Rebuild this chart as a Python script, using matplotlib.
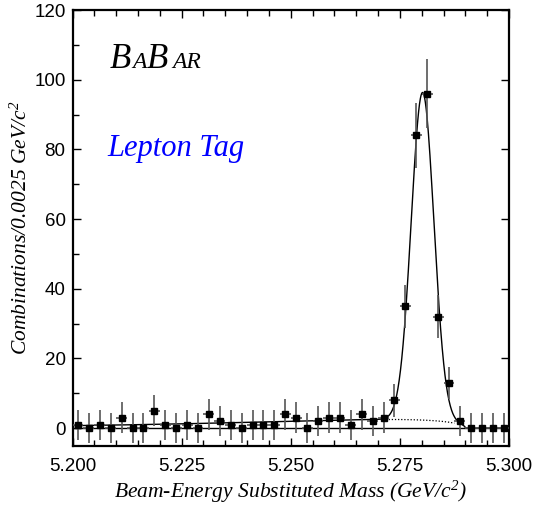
import numpy as np
import matplotlib
matplotlib.use("Agg")
import matplotlib.pyplot as plt
from matplotlib.ticker import MultipleLocator, FormatStrFormatter

plt.rcParams["mathtext.fontset"] = "custom"
plt.rcParams["mathtext.rm"] = "Liberation Serif:italic"
plt.rcParams["mathtext.it"] = "Liberation Serif:italic"

# mES bins (0.0025 GeV/c^2 wide) and counts
bin_lo = 5.200
bin_w = 0.0025
counts = [1, 0, 1, 0, 3, 0, 0, 5, 1, 0,
          1, 0, 4, 2, 1, 0, 1, 1, 1, 4,
          3, 0, 2, 3, 3, 1, 4, 2, 3, 8,
          35, 84, 96, 32, 13, 2, 0, 0, 0, 0]
errors = [4.3, 4.3, 4.3, 4.3, 4.4, 4.3, 4.3, 4.5, 4.3, 4.3,
          4.3, 4.3, 4.4, 4.3, 4.3, 4.3, 4.3, 4.3, 4.3, 4.4,
          4.4, 4.3, 4.3, 4.4, 4.4, 4.3, 4.4, 4.3, 4.4, 4.8,
          6.2, 9.3, 9.9, 6.2, 4.7, 4.3, 4.3, 4.3, 4.3, 4.3]

# fit: gaussian signal + ARGUS background
sig_mean = 5.2802
sig_sigma = 0.0026
sig_amp = 94.0
e_beam = 5.29
argus_chi = -75.0
bg_ref_x = 5.2737
bg_ref_y = 2.5

centers = bin_lo + bin_w * (np.arange(len(counts)) + 0.5)


def argus(m):
    r = np.clip(m / e_beam, 0, 1)
    return m * np.sqrt(1 - r**2) * np.exp(argus_chi * (1 - r**2))


def background(m):
    return bg_ref_y * argus(m) / argus(bg_ref_x)


def total(m):
    return background(m) + sig_amp * np.exp(-0.5 * ((m - sig_mean) / sig_sigma) ** 2)


fig = plt.figure(figsize=(5.36, 5.08), dpi=100)
ax = fig.add_axes([0.1353, 0.1228, 0.8143, 0.8575])

m = np.linspace(5.2, 5.3, 2000)
ax.axhline(0, color="black", lw=1.0)
ax.plot(m, total(m), color="black", lw=1.0)
md = np.linspace(5.271, 5.2875, 200)
ax.plot(md, background(md), color="black", lw=0.9, ls=(0, (1, 1.5)))

ax.errorbar(centers, counts, yerr=errors, xerr=bin_w / 2, fmt="s",
            color="black", ecolor="#555555", elinewidth=1.2,
            markersize=4.5, capsize=0, zorder=3)

ax.set_xlim(5.2, 5.3)
ax.set_ylim(-5, 120)
ax.xaxis.set_major_locator(MultipleLocator(0.025))
ax.xaxis.set_minor_locator(MultipleLocator(0.005))
ax.xaxis.set_major_formatter(FormatStrFormatter("%.3f"))
ax.yaxis.set_major_locator(MultipleLocator(20))
ax.yaxis.set_minor_locator(MultipleLocator(10))
ax.tick_params(which="both", direction="in", top=True, right=True,
               labelsize=13.5, width=1.0)
ax.tick_params(which="major", length=6)
ax.tick_params(which="minor", length=4)
ax.yaxis.set_tick_params(which="minor", right=False)
ax.tick_params(axis="x", pad=9)
ax.tick_params(axis="y", pad=5)
for lab in ax.get_xticklabels() + ax.get_yticklabels():
    lab.set_family("Liberation Sans")
for sp in ax.spines.values():
    sp.set_linewidth(1.6)

ax.set_xlabel(r"Beam-Energy Substituted Mass (GeV/c$^2$)",
              family="Liberation Serif", style="italic", fontsize=15.5, labelpad=3)
ax.set_ylabel(r"Combinations/0.0025 GeV/c$^2$",
              family="Liberation Serif", style="italic", fontsize=15.5, labelpad=2)

# experiment logo: large B, small caps A, large B, small caps AR
logo = [("B", 25, 0.086), ("A", 17, 0.138), ("B", 25, 0.170), ("AR", 17, 0.228)]
for txt, fs, xf in logo:
    ax.text(xf, 0.867, txt, transform=ax.transAxes, family="Liberation Serif",
            style="italic", fontsize=fs, va="baseline")

ax.text(0.079, 0.665, "Lepton Tag", transform=ax.transAxes, color="blue",
        family="Liberation Serif", style="italic", fontsize=22, va="baseline")

fig.savefig("out.png", dpi=100)
